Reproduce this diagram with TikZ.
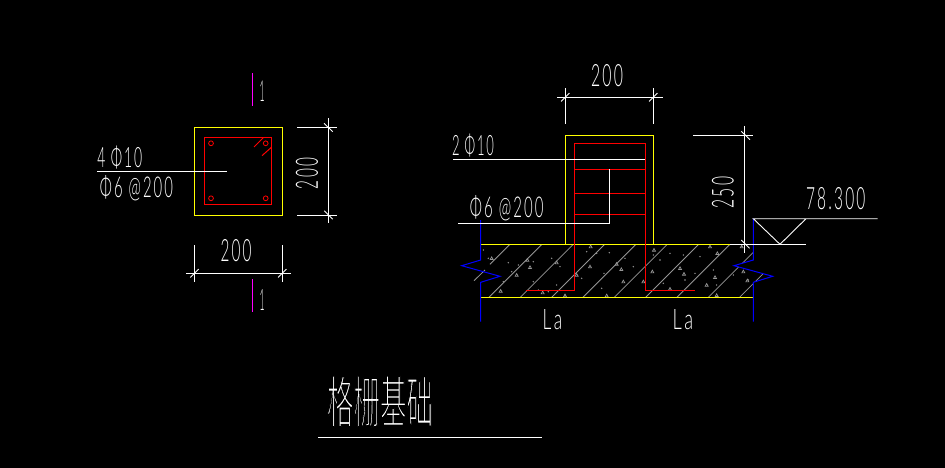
\documentclass[tikz,border=0pt]{standalone}
\usepackage{fontspec}
\usepackage{graphicx}
\newfontfamily\cadfont[LetterSpace=14]{Lato Light}
\newfontfamily\cadcjk{Noto Sans CJK SC}
\newcommand{\cadbox}[3]{\resizebox{#1pt}{#2pt}{\cadfont #3}}
\newcommand{\cadgap}{\hspace{0.4em}}
\definecolor{cadyellow}{RGB}{255,255,0}
\definecolor{cadred}{RGB}{255,0,0}
\definecolor{cadblue}{RGB}{0,0,255}
\definecolor{cadmag}{RGB}{255,0,255}
\definecolor{cadgray}{RGB}{150,150,150}
\tikzset{
  ln/.style={draw=white,line width=0.9pt},
  ylw/.style={draw=cadyellow,line width=1pt},
  rd/.style={draw=cadred,line width=1pt},
  blu/.style={draw=cadblue,line width=1pt},
  mag/.style={draw=cadmag,line width=1pt},
  hat/.style={draw=cadgray,line width=0.8pt},
  lbl/.style={inner sep=0pt,outer sep=0pt,text=white,anchor=center},
}
\begin{document}
\begin{tikzpicture}[x=1pt,y=-1pt]
\fill[black] (0,0) rectangle (945,468);
\useasboundingbox (0,0) rectangle (945,468);
% ---------- plan section ----------
\draw[ylw] (194.3,127.3) rectangle (282.3,215.3);
\draw[rd] (204.3,137.3) rectangle (271.7,204.3);
\foreach \X/\Y in {211/143.3,265.7/143.3,211/198.3,265.7/198.3}
  \draw[draw=cadred,line width=0.8pt] (\X,\Y) circle (2.4);
\draw[rd] (254,147) -- (263.3,137.7);
\draw[rd] (262,155.7) -- (271.7,147);
\draw[ln] (97,171.3) -- (226.7,171.3);
\node[lbl] (n4) at (119.8,158) {\cadbox{45}{21.5}{4\cadgap Φ10}};
\node[lbl] (n6) at (136.5,188) {\cadbox{73}{22}{Φ6\cadgap @200}};
\draw[mag] (252.3,73.3) -- (252.3,105.7);
\draw[mag] (252.3,279) -- (252.3,311.7);
\node[lbl] (s1) at (262,91.5) {\cadbox{5}{20.5}{1}};
\node[lbl] (s2) at (262,299.8) {\cadbox{5}{21}{1}};
% right dim
\draw[ln] (297,127.3) -- (336.7,127.3);
\draw[ln] (297,215.3) -- (336.7,215.3);
\draw[ln] (328.3,118.3) -- (328.3,223.3);
\draw[ln] (324,123.3) -- (332.7,131.7);
\draw[ln] (324.3,210.8) -- (332.7,219.2);
\node[lbl,rotate=90] (d1) at (307,173.5) {\cadbox{31}{22}{200}};
% bottom dim
\draw[ln] (194.3,245) -- (194.3,281.7);
\draw[ln] (282.3,245) -- (282.3,281.7);
\draw[ln] (186,273.3) -- (290.7,273.3);
\draw[ln] (190.3,277.5) -- (198.7,269.1);
\draw[ln] (278.1,277.5) -- (286.5,269.1);
\node[lbl] (d2) at (236,251) {\cadbox{31}{22}{200}};
% ---------- elevation ----------
% hatch and aggregate
\begin{scope}
\clip (480.7,244.3) -- (753.3,244.3) -- (753.3,260) -- (734,265.7) -- (772.7,276.3) -- (753.3,282.3) -- (753.3,297.3) -- (480.7,297.3) -- (480.7,282.3) -- (500,276.3) -- (461.7,265.7) -- (480.7,260) -- cycle;
\foreach \B in {489,520.3,551.7,583,614.3,645.7,677,708.3,739.6}
  \draw[hat] (\B,297.3) -- ({\B+53},244.3);
\end{scope}
\draw[hat] (510,244.3) -- (490,264.3);
\draw[hat] (485,270) -- (474,280.7);
\foreach \X/\Y in {100/60,115/85,175/98,160/155,250/95,250/155,305/85,330/110,345/195,410/65,440/70,478/68,395/145,462/130,455/175,525/85,550/110,610/75,630/90,660/70,700/75,735/130,750/80,800/165,790/120,705/150,640/160,320/165,265/180,185/125,205/105,295/185,875/50,895/150,850/135}
  \fill[cadgray] ({450+\X/3},{230+\Y/3}) circle (0.8);
\foreach \X/\Y in {125/85,232/90,240/112,320/98,380/135,420/110,422/50,500/102,514/118,520/155,580/155,607/125,612/60,690/115,702/132,660/177,780/50,802/70,770/165,795/142,880/125,892/152,875/50,278/188,152/183,200/135,470/197,345/197,800/196}
  \draw[draw=cadgray,line width=0.7pt] ({450+\X/3-1.5},{230+\Y/3+1.2}) -- ({450+\X/3+1.5},{230+\Y/3+1.2}) -- ({450+\X/3},{230+\Y/3-1.5}) -- cycle;
% column
\draw[ylw] (565.3,244.3) -- (565.3,135.3) -- (653.3,135.3) -- (653.3,244.3);
\draw[ylw] (480.7,244.3) -- (730,244.3);
\draw[ylw] (480.7,297.3) -- (753.3,297.3);
% rebar
\draw[rd] (526,290.3) -- (574.5,290.3) -- (574.5,143.3) -- (645.5,143.3) -- (645.5,290.3) -- (695,290.3);
\draw[rd] (574.5,169.3) -- (645.5,169.3);
\draw[rd] (574.5,193.3) -- (645.5,193.3);
\draw[rd] (574.5,214.3) -- (645.5,214.3);
% break lines
\draw[blu] (480.7,220) -- (480.7,260) -- (461.7,265.7) -- (500,276.3) -- (480.7,282.3) -- (480.7,321.7);
\draw[blu] (753.3,218.7) -- (753.3,260) -- (734,265.7) -- (772.7,276.3) -- (753.3,282.3) -- (753.3,321.7);
% leaders
\draw[ln] (453,159.3) -- (645,159.3);
\draw[ln] (458,223.3) -- (609.3,223.3) -- (609.3,169.3);
\node[lbl] (n2) at (473,145.2) {\cadbox{42}{21.5}{2\cadgap Φ10}};
\node[lbl] (n7) at (506.7,208.2) {\cadbox{73.5}{22}{Φ6\cadgap @200}};
% top dim
\draw[ln] (557.3,97.3) -- (662.7,97.3);
\draw[ln] (565.3,88.3) -- (565.3,123.7);
\draw[ln] (653.3,88.3) -- (653.3,123.7);
\draw[ln] (561.1,101.5) -- (569.5,93.1);
\draw[ln] (649.1,101.5) -- (657.5,93.1);
\node[lbl] (d3) at (607,76) {\cadbox{32}{22}{200}};
% height dim
\draw[ln] (693.3,135.3) -- (753.3,135.3);
\draw[ln] (744.3,126) -- (744.3,253.3);
\draw[ln] (741.3,131.3) -- (750,139.7);
\draw[ln] (741.3,240) -- (749.5,248.3);
\node[lbl,rotate=90] (d4) at (723,192.5) {\cadbox{31.6}{21.7}{250}};
% elevation mark
\draw[ln] (730,244.3) -- (806,244.3);
\draw[ln] (877.7,218.7) -- (753.3,218.7) -- (780,244.3) -- (806,218.7);
\node[lbl] (e1) at (835.7,199) {\cadbox{59.3}{22}{78.300}};
% La
\node[lbl] (l1) at (552.5,320) {\cadbox{19.6}{20}{La}};
\node[lbl] (l2) at (683,320) {\cadbox{20.6}{20}{La}};
% title
\node[lbl] (t1) at (380,401.5) {\resizebox{106pt}{47pt}{\special{pdf:code q 2 Tr 0 0 0 RG 0.35 w}\cadcjk 格栅基础\special{pdf:code Q}}};
\draw[ln] (318.3,437.3) -- (541.7,437.3);
\end{tikzpicture}
\end{document}
